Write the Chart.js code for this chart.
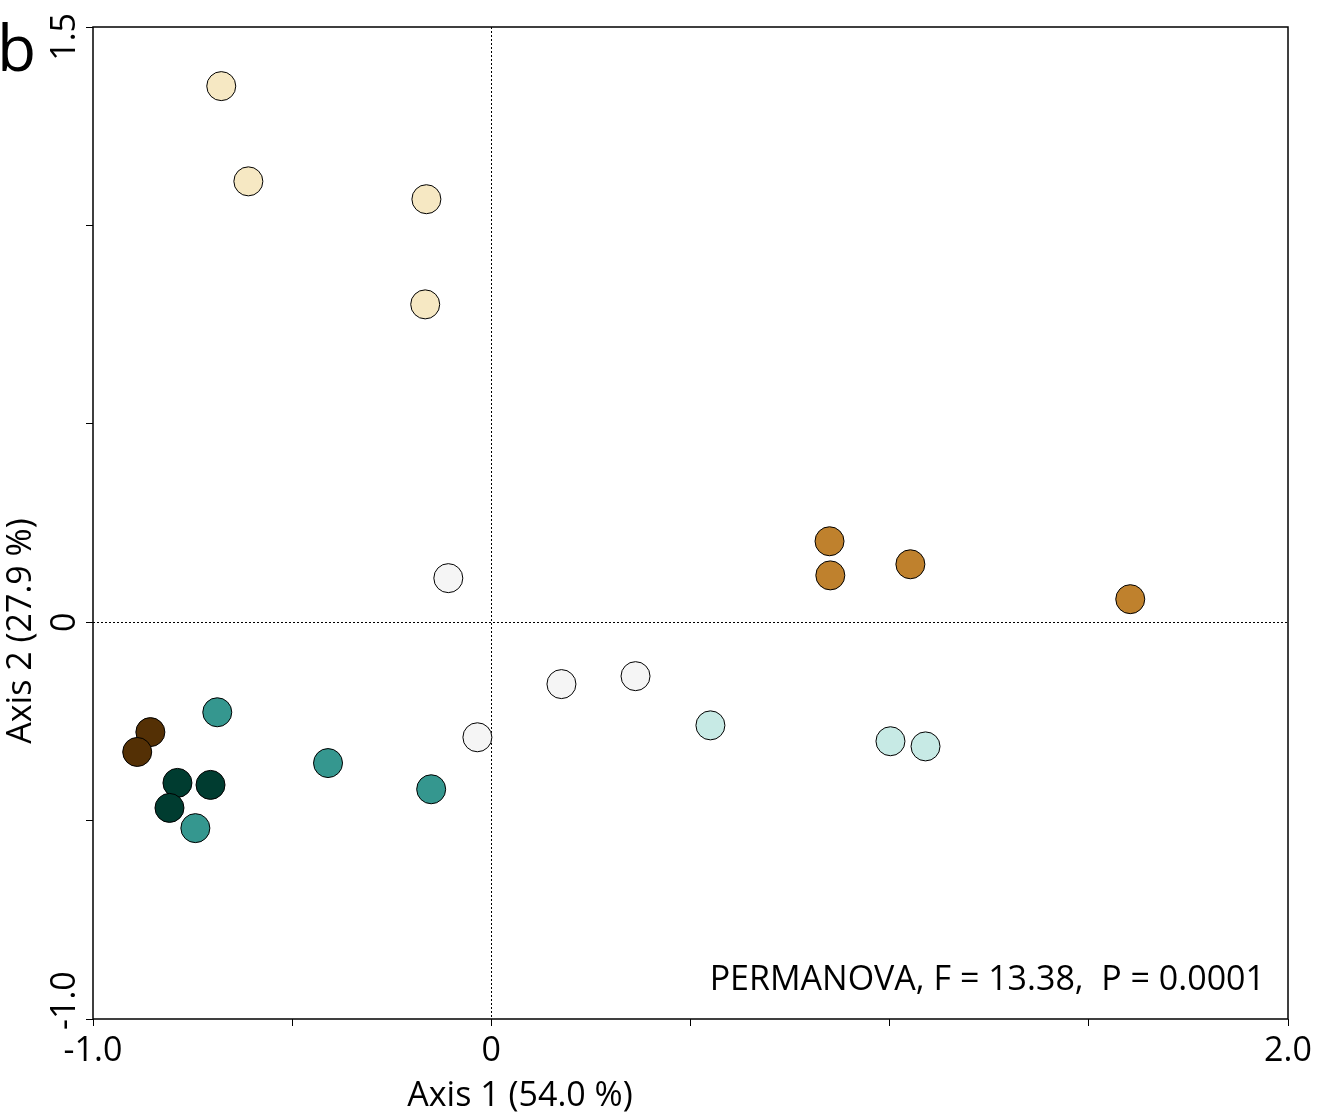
<!DOCTYPE html>
<html>
<head>
<meta charset="utf-8">
<script src="https://cdn.jsdelivr.net/npm/chart.js@4"></script>
<style>
  html, body { margin: 0; padding: 0; background: #fff; }
  #wrap { position: relative; width: 1320px; height: 1115px; }
</style>
</head>
<body>
<div id="wrap"><canvas id="c" width="1320" height="1115"></canvas></div>
<script>
// ---- data ----
const groupNames = ['G1', 'G2', 'G3', 'G4', 'G5', 'G6', 'G7'];
const groupColors = ['#F6E8C3', '#BF812D', '#F5F5F5', '#C7EAE5', '#35978F', '#003C30', '#543005'];
const g1x = [-0.678, -0.610, -0.163, -0.166];
const g1y = [1.351, 1.111, 1.066, 0.801];
const g2x = [0.849, 0.851, 1.052, 1.604];
const g2y = [0.204, 0.118, 0.146, 0.058];
const g3x = [-0.108, 0.176, 0.362, -0.035];
const g3y = [0.111, -0.156, -0.136, -0.290];
const g4x = [0.550, 1.002, 1.090];
const g4y = [-0.260, -0.300, -0.313];
const g5x = [-0.688, -0.410, -0.151, -0.743];
const g5y = [-0.227, -0.355, -0.421, -0.519];
const g6x = [-0.788, -0.705, -0.808];
const g6y = [-0.405, -0.410, -0.468];
const g7x = [-0.856, -0.889];
const g7y = [-0.277, -0.327];
const xTickValues = [-1, 0, 2];
const xTickText = ['-1.0', '0', '2.0'];
const yTickValues = [1.5, 0, -1];
const yTickText = ['1.5', '0', '-1.0'];
const xTitle = 'Axis 1 (54.0 %)';
const yTitle = 'Axis 2 (27.9 %)';
const panelLabel = 'b';
const statText = 'PERMANOVA, F = 13.38,  P = 0.0001';

const allX = [g1x, g2x, g3x, g4x, g5x, g6x, g7x];
const allY = [g1y, g2y, g3y, g4y, g5y, g6y, g7y];

const FONT = '"Open Sans", "Noto Sans", sans-serif';
const FS = 34;

const datasets = groupNames.map((name, i) => ({
  label: name,
  data: allX[i].map((x, j) => ({ x: x, y: allY[i][j] })),
  backgroundColor: groupColors[i],
  borderColor: '#000',
  borderWidth: 1,
  pointRadius: 14.5,
  pointHoverRadius: 14.5
}));

const decor = {
  id: 'decor',
  beforeDatasetsDraw(chart) {
    const { ctx, chartArea: a, scales } = chart;
    const x0 = scales.x.getPixelForValue(0);
    const y0 = scales.y.getPixelForValue(0);
    ctx.save();
    ctx.strokeStyle = '#000';
    ctx.lineWidth = 1;
    ctx.setLineDash([2, 2]);
    ctx.beginPath();
    ctx.moveTo(Math.round(x0) + 0.5, a.top);
    ctx.lineTo(Math.round(x0) + 0.5, a.bottom);
    ctx.moveTo(a.left, Math.round(y0) + 0.5);
    ctx.lineTo(a.right, Math.round(y0) + 0.5);
    ctx.stroke();
    ctx.restore();
  },
  afterDraw(chart) {
    const { ctx, chartArea: a, scales } = chart;
    ctx.save();
    ctx.strokeStyle = '#000';
    ctx.lineWidth = 1.5;
    ctx.strokeRect(a.left, a.top, a.right - a.left, a.bottom - a.top);
    ctx.fillStyle = '#000';
    ctx.font = FS + 'px ' + FONT;
    ctx.textAlign = 'center';
    ctx.textBaseline = 'middle';
    yTickValues.forEach((v, i) => {
      let py = scales.y.getPixelForValue(v);
      const w = ctx.measureText(yTickText[i]).width;
      py = Math.max(a.top + w / 2 - 14, Math.min(a.bottom - w / 2 + 11, py));
      ctx.save();
      ctx.translate(a.left - 28, py);
      ctx.rotate(-Math.PI / 2);
      ctx.fillText(yTickText[i], 0, 0);
      ctx.restore();
    });
    ctx.fillText(xTitle, 520, 1096);
    ctx.save();
    ctx.translate(21, 631);
    ctx.rotate(-Math.PI / 2);
    ctx.fillText(yTitle, 0, 0);
    ctx.restore();
    ctx.textAlign = 'right';
    ctx.fillText(statText, 1265, 980);
    ctx.textAlign = 'left';
    ctx.textBaseline = 'alphabetic';
    ctx.font = '64px ' + FONT;
    ctx.fillText(panelLabel, -3, 71);
    ctx.restore();
  }
};

new Chart(document.getElementById('c'), {
  type: 'scatter',
  data: { datasets },
  options: {
    responsive: false,
    animation: false,
    events: [],
    layout: { padding: { top: 27, right: 32, left: 0, bottom: 0 } },
    plugins: { legend: { display: false }, tooltip: { enabled: false } },
    scales: {
      x: {
        type: 'linear', min: -1, max: 2,
        ticks: {
          stepSize: 0.5, autoSkip: false, maxRotation: 0, minRotation: 0,
          color: '#000', font: { family: FONT, size: FS }, padding: 5,
          callback: (v) => { const k = xTickValues.findIndex(t => Math.abs(t - v) < 1e-9); return k >= 0 ? xTickText[k] : ''; }
        },
        grid: { drawOnChartArea: false, drawTicks: true, tickLength: 7, tickColor: '#000', tickWidth: 1 },
        border: { display: false },
        afterFit: (s) => { s.height = 96; }
      },
      y: {
        type: 'linear', min: -1, max: 1.5,
        ticks: { stepSize: 0.5, autoSkip: false, callback: () => '', font: { family: FONT, size: FS } },
        grid: { drawOnChartArea: false, drawTicks: true, tickLength: 7, tickColor: '#000', tickWidth: 1 },
        border: { display: false },
        afterFit: (s) => { s.width = 93; }
      }
    }
  },
  plugins: [decor]
});
</script>
</body>
</html>
